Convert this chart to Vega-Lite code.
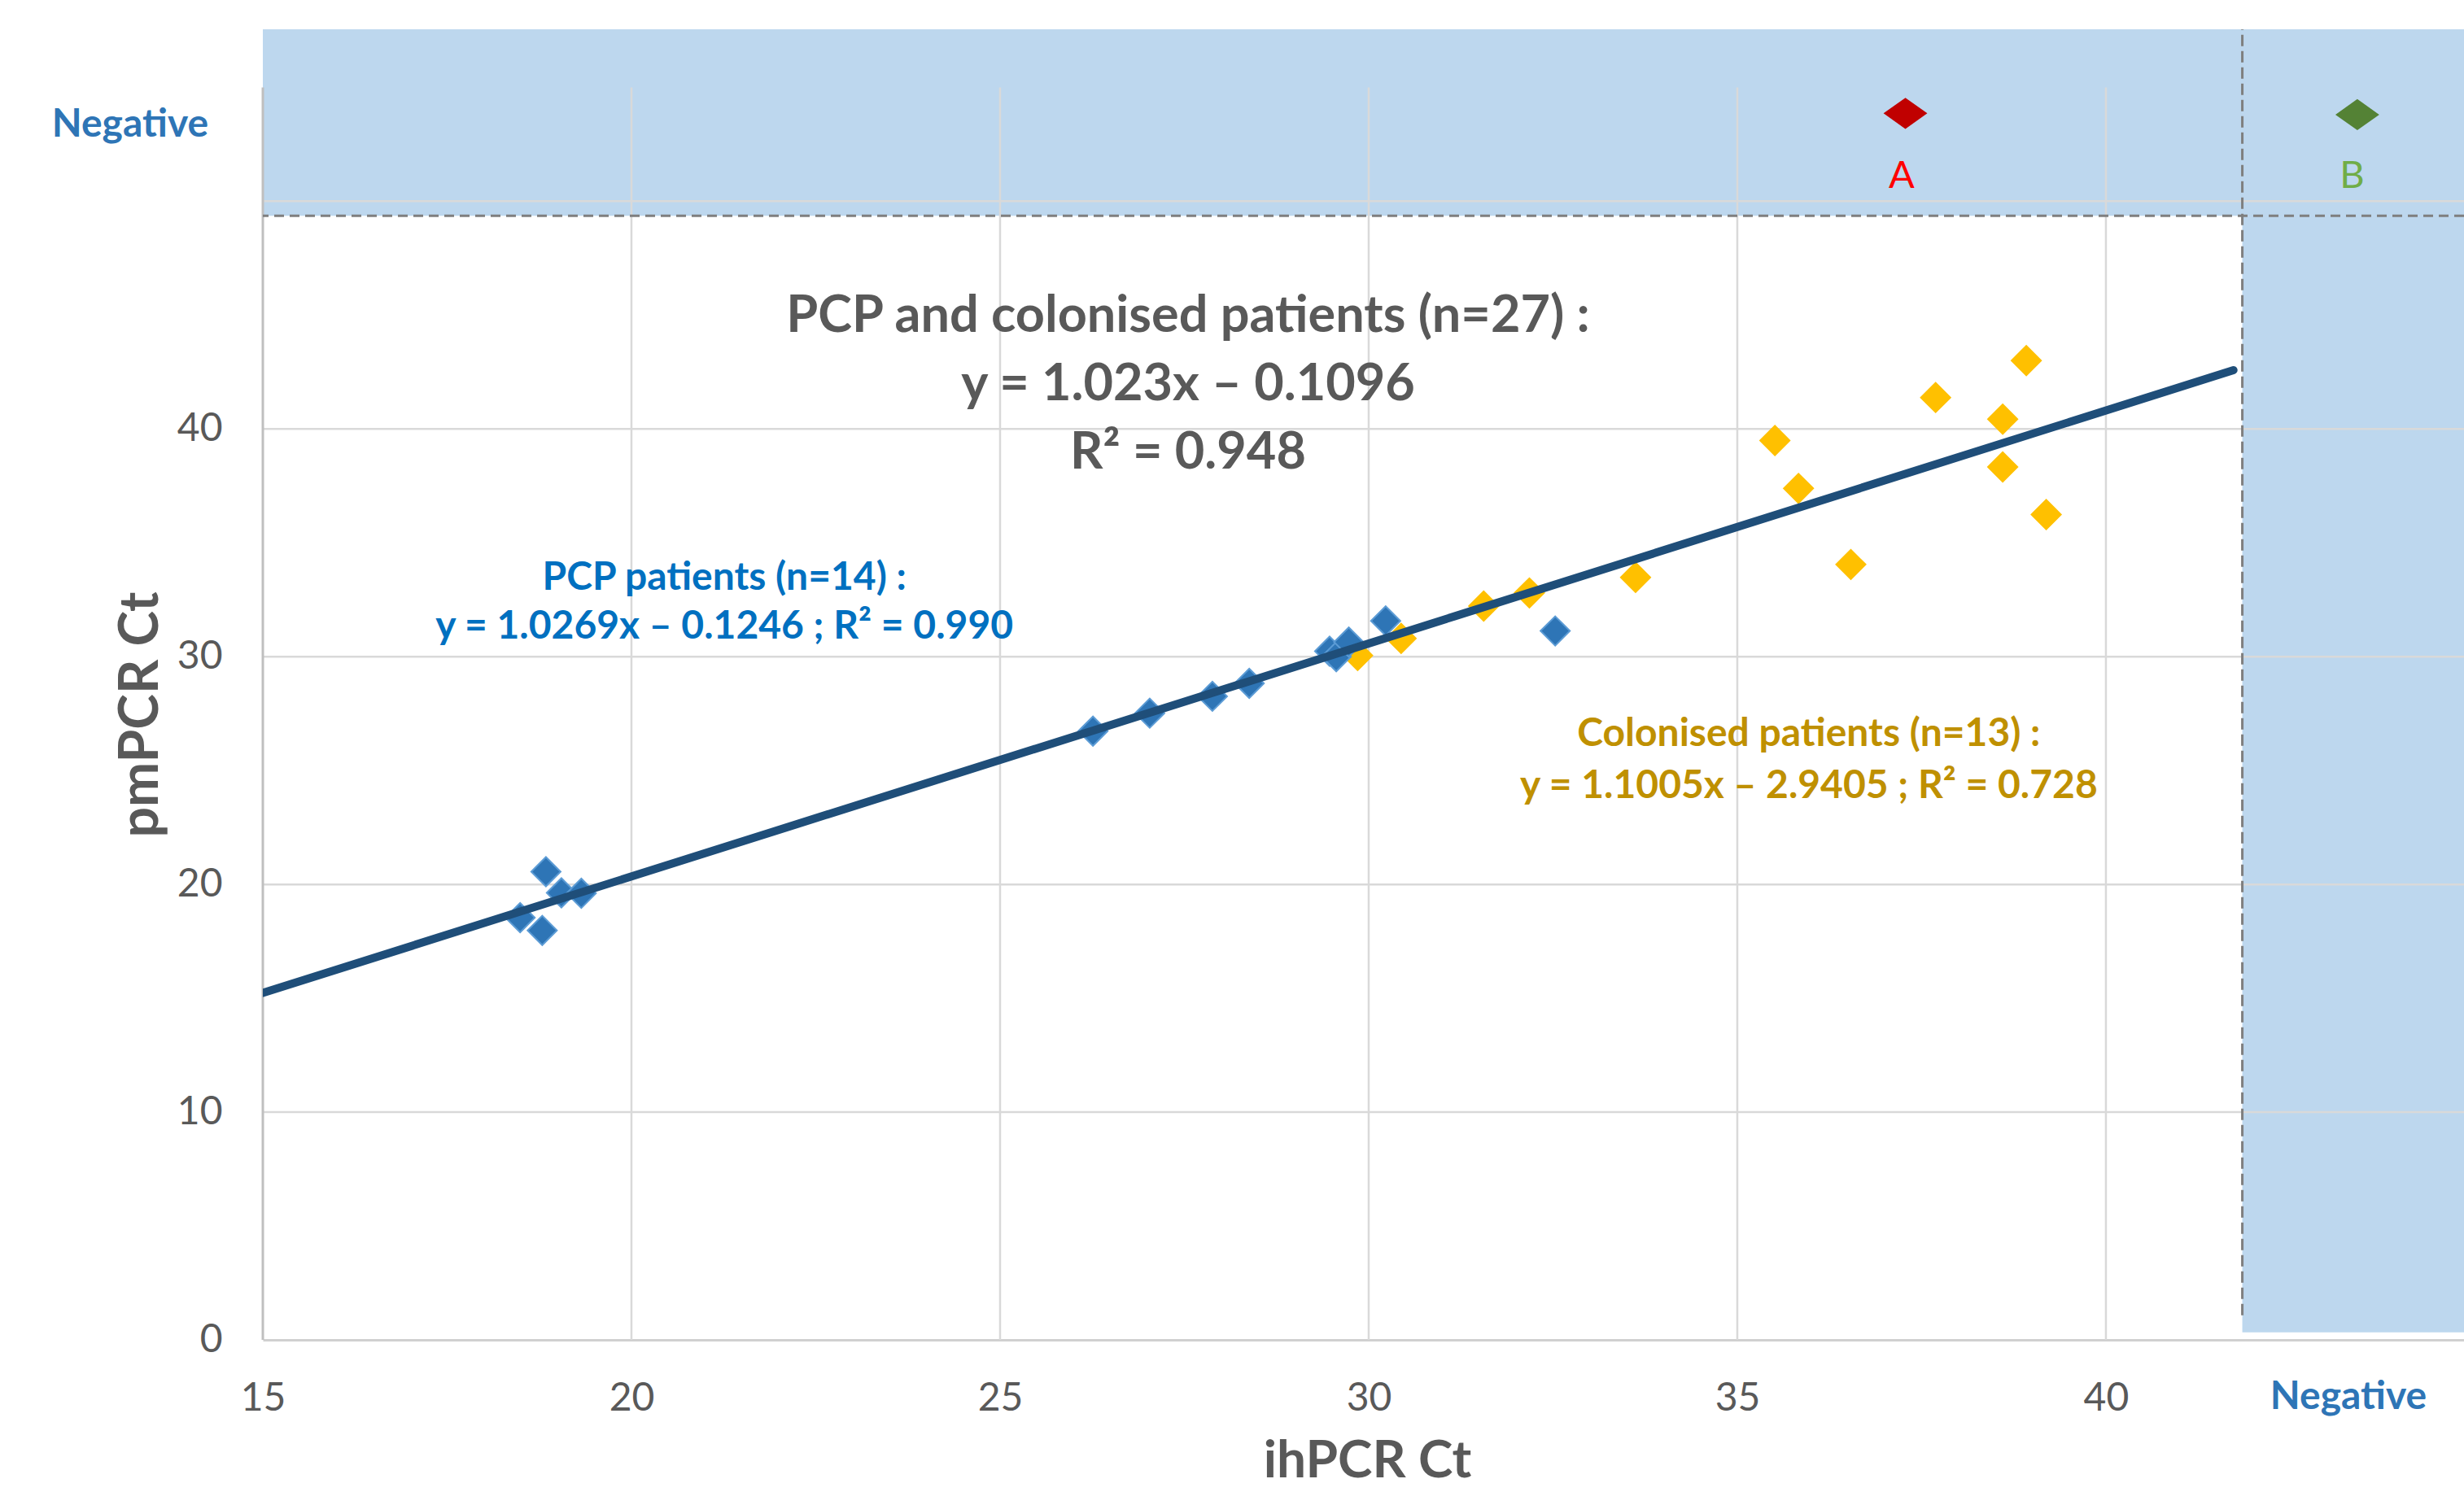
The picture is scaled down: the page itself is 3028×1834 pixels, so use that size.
{
  "$schema": "https://vega.github.io/schema/vega-lite/v6.json",
  "width": 2705,
  "height": 1611,
  "autosize": {"type": "none"},
  "padding": {"left": 323, "top": 36, "right": 0, "bottom": 187},
  "background": "white",
  "config": {
    "view": {"stroke": null},
    "font": "Lato",
    "axis": {"grid": false, "ticks": false, "tickSize": 0, "labelFont": "Lato", "titleFont": "Lato"},
    "axisX": {"domain": true, "domainColor": "#D0D0D0", "domainWidth": 3},
    "axisY": {"domain": false}
  },
  "datasets": {
    "points": [
      {"group": "Colonised", "ih": 29.85, "pm": 30.05},
      {"group": "Colonised", "ih": 30.44, "pm": 30.80},
      {"group": "Colonised", "ih": 31.56, "pm": 32.22},
      {"group": "Colonised", "ih": 32.18, "pm": 32.80},
      {"group": "Colonised", "ih": 33.62, "pm": 33.48},
      {"group": "Colonised", "ih": 35.51, "pm": 39.49},
      {"group": "Colonised", "ih": 35.83, "pm": 37.39},
      {"group": "Colonised", "ih": 36.54, "pm": 34.05},
      {"group": "Colonised", "ih": 37.69, "pm": 41.38},
      {"group": "Colonised", "ih": 38.60, "pm": 40.43},
      {"group": "Colonised", "ih": 38.60, "pm": 38.33},
      {"group": "Colonised", "ih": 38.92, "pm": 43.00},
      {"group": "Colonised", "ih": 39.19, "pm": 36.24},
      {"group": "PCP", "ih": 18.84, "pm": 20.56},
      {"group": "PCP", "ih": 19.05, "pm": 19.63},
      {"group": "PCP", "ih": 19.32, "pm": 19.61},
      {"group": "PCP", "ih": 18.49, "pm": 18.54},
      {"group": "PCP", "ih": 18.79, "pm": 17.98},
      {"group": "PCP", "ih": 26.26, "pm": 26.73},
      {"group": "PCP", "ih": 27.03, "pm": 27.52},
      {"group": "PCP", "ih": 27.88, "pm": 28.26},
      {"group": "PCP", "ih": 28.38, "pm": 28.83},
      {"group": "PCP", "ih": 29.47, "pm": 30.24},
      {"group": "PCP", "ih": 29.56, "pm": 30.00},
      {"group": "PCP", "ih": 29.73, "pm": 30.64},
      {"group": "PCP", "ih": 30.23, "pm": 31.57},
      {"group": "PCP", "ih": 32.53, "pm": 31.13}
    ],
    "negatives": [
      {"group": "A", "ih": 37.28, "pm": 53.86},
      {"group": "B", "ih": 43.41, "pm": 53.80}
    ],
    "fit": [
      {"ih": 15, "pm": 15.235},
      {"ih": 41.73, "pm": 42.58}
    ]
  },
  "layer": [
    {
      "data": {"values": [
        {"x1": 15, "x2": 44.857, "y1": 49.36, "y2": 57.55},
        {"x1": 41.85, "x2": 44.857, "y1": 0.33, "y2": 57.55}
      ]},
      "mark": {"type": "rect", "color": "#BDD7EE"},
      "encoding": {
        "x": {"field": "x1", "type": "quantitative",
          "scale": {"domain": [15, 44.857], "nice": false, "zero": false},
          "axis": {"values": [15, 20, 25, 30, 35, 40], "format": "d", "grid": false, "ticks": false, "tickSize": 0,
            "labelFontSize": 48, "labelColor": "#595959", "labelBaseline": "alphabetic", "labelPadding": 86,
            "labelFlush": false, "labelOverlap": false,
            "title": "ihPCR Ct", "titleFontSize": 64, "titleFontWeight": "bold", "titleColor": "#595959",
            "titleBaseline": "alphabetic", "titleAlign": "center", "titleX": 1357, "titleY": 168}},
        "x2": {"field": "x2"},
        "y": {"field": "y1", "type": "quantitative",
          "scale": {"domain": [0, 57.55], "nice": false, "zero": false},
          "axis": {"values": [0, 10, 20, 30, 40], "format": "d", "grid": false, "ticks": false, "tickSize": 0, "domain": false,
            "labelFontSize": 48, "labelColor": "#595959", "labelPadding": 50, "labelFlush": false, "labelOverlap": false,
            "title": "pmPCR Ct", "titleFontSize": 66, "titleFontWeight": "bold", "titleColor": "#595959",
            "titleAngle": 270, "titleBaseline": "alphabetic", "titleAlign": "center", "titleX": -130, "titleY": 842}},
        "y2": {"field": "y2"}
      }
    },
    {
      "data": {"values": [{"v": 10}, {"v": 20}, {"v": 30}, {"v": 40}, {"v": 50}]},
      "mark": {"type": "rule", "color": "#D9D9D9", "strokeWidth": 2.5},
      "encoding": {"y": {"field": "v", "type": "quantitative"}}
    },
    {
      "data": {"values": [{"v": 20}, {"v": 25}, {"v": 30}, {"v": 35}, {"v": 40}]},
      "mark": {"type": "rule", "color": "#D9D9D9", "strokeWidth": 2.5},
      "encoding": {
        "x": {"field": "v", "type": "quantitative"},
        "y": {"datum": 0, "type": "quantitative"},
        "y2": {"datum": 55}
      }
    },
    {
      "data": {"values": [{"v": 15}]},
      "mark": {"type": "rule", "color": "#BFBFBF", "strokeWidth": 3},
      "encoding": {
        "x": {"field": "v", "type": "quantitative"},
        "y": {"datum": 0, "type": "quantitative"},
        "y2": {"datum": 55}
      }
    },
    {
      "data": {"values": [{"v": 49.36}]},
      "mark": {"type": "rule", "color": "#7F7F7F", "strokeWidth": 3, "strokeDash": [12, 7]},
      "encoding": {"y": {"field": "v", "type": "quantitative"}}
    },
    {
      "data": {"values": [{"v": 41.85}]},
      "mark": {"type": "rule", "color": "#7F7F7F", "strokeWidth": 3, "strokeDash": [14, 6]},
      "encoding": {
        "x": {"field": "v", "type": "quantitative"},
        "y": {"datum": 1.08, "type": "quantitative"},
        "y2": {"datum": 57.55}
      }
    },
    {
      "data": {"name": "points"},
      "mark": {"type": "point", "shape": "diamond", "filled": true, "size": 1300, "opacity": 1, "strokeWidth": 2},
      "encoding": {
        "x": {"field": "ih", "type": "quantitative"},
        "y": {"field": "pm", "type": "quantitative"},
        "color": {"field": "group", "type": "nominal",
          "scale": {"domain": ["Colonised", "PCP", "A", "B"], "range": ["#FFC000", "#2E75B6", "#C00000", "#548235"]},
          "legend": null},
        "stroke": {"field": "group", "type": "nominal",
          "scale": {"domain": ["Colonised", "PCP"], "range": ["#FFC000", "#5B9BD5"]},
          "legend": null}
      }
    },
    {
      "data": {"name": "negatives"},
      "mark": {"type": "point", "shape": "M-1,0L0,-0.71L1,0L0,0.71Z", "filled": true, "size": 2900, "opacity": 1},
      "encoding": {
        "x": {"field": "ih", "type": "quantitative"},
        "y": {"field": "pm", "type": "quantitative"},
        "color": {"field": "group", "type": "nominal", "legend": null}
      }
    },
    {
      "data": {"name": "fit"},
      "mark": {"type": "line", "color": "#1F4E79", "strokeWidth": 10, "strokeCap": "round", "clip": true},
      "encoding": {
        "x": {"field": "ih", "type": "quantitative"},
        "y": {"field": "pm", "type": "quantitative"}
      }
    },
    {
      "data": {"values": [
        {"text": "PCP and colonised patients (n=27) :", "x": 27.55, "y": 44.26},
        {"text": "y = 1.023x – 0.1096", "x": 27.55, "y": 41.26},
        {"text": "R² = 0.948", "x": 27.55, "y": 38.26}
      ]},
      "mark": {"type": "text", "font": "Lato", "fontSize": 63, "fontWeight": "bold", "color": "#595959", "align": "center", "baseline": "alphabetic"},
      "encoding": {
        "x": {"field": "x", "type": "quantitative"},
        "y": {"field": "y", "type": "quantitative"},
        "text": {"field": "text"}
      }
    },
    {
      "data": {"values": [
        {"text": "PCP patients (n=14) :", "x": 21.26, "y": 32.94},
        {"text": "y = 1.0269x – 0.1246 ; R² = 0.990", "x": 21.26, "y": 30.80}
      ]},
      "mark": {"type": "text", "font": "Lato", "fontSize": 48, "fontWeight": "bold", "color": "#0070C0", "align": "center", "baseline": "alphabetic"},
      "encoding": {
        "x": {"field": "x", "type": "quantitative"},
        "y": {"field": "y", "type": "quantitative"},
        "text": {"field": "text"}
      }
    },
    {
      "data": {"values": [
        {"text": "Colonised patients (n=13) :", "x": 35.97, "y": 26.08},
        {"text": "y = 1.1005x – 2.9405 ; R² = 0.728", "x": 35.97, "y": 23.80}
      ]},
      "mark": {"type": "text", "font": "Lato", "fontSize": 48, "fontWeight": "bold", "color": "#BF9000", "align": "center", "baseline": "alphabetic"},
      "encoding": {
        "x": {"field": "x", "type": "quantitative"},
        "y": {"field": "y", "type": "quantitative"},
        "text": {"field": "text"}
      }
    },
    {
      "data": {"values": [
        {"text": "A", "x": 37.23, "y": 50.6},
        {"text": "B", "x": 43.34, "y": 50.6}
      ]},
      "mark": {"type": "text", "font": "Lato", "fontSize": 47, "align": "center", "baseline": "alphabetic"},
      "encoding": {
        "x": {"field": "x", "type": "quantitative"},
        "y": {"field": "y", "type": "quantitative"},
        "text": {"field": "text"},
        "color": {"condition": {"test": "datum.text === 'A'", "value": "#FF0000"}, "value": "#70AD47"}
      }
    },
    {
      "data": {"values": [
        {"text": "Negative", "x": 13.2, "y": 52.83},
        {"text": "Negative", "x": 43.29, "y": -3.04}
      ]},
      "mark": {"type": "text", "font": "Lato", "fontSize": 48, "fontWeight": "bold", "color": "#2E75B6", "align": "center", "baseline": "alphabetic"},
      "encoding": {
        "x": {"field": "x", "type": "quantitative"},
        "y": {"field": "y", "type": "quantitative"},
        "text": {"field": "text"}
      }
    }
  ]
}
